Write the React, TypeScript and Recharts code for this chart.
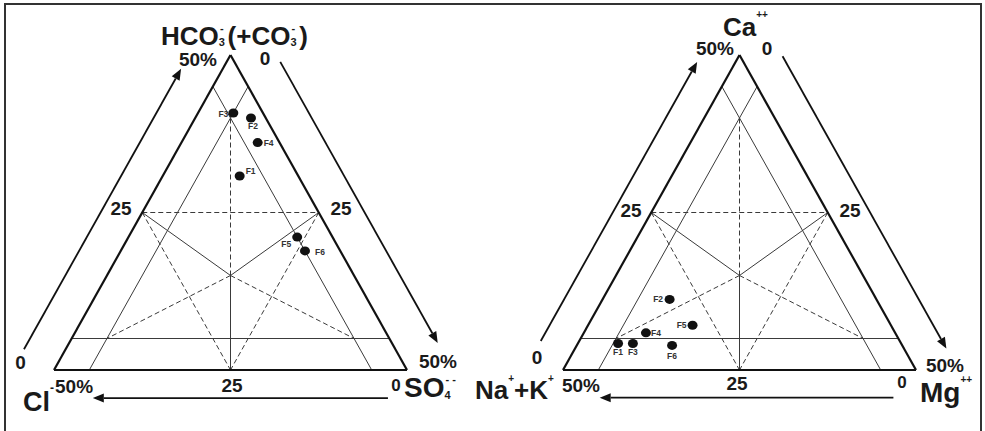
import React from "react";
import { ScatterChart, Scatter, XAxis, YAxis, ReferenceLine } from "recharts";

const samples = ["F1", "F2", "F3", "F4", "F5", "F6"];

// anion triangle, meq % (each row sums to 50)
const hco3 = [30.8, 40.0, 40.8, 36.1, 21.1, 18.9];
const so4 = [10.9, 7.9, 5.0, 10.8, 23.9, 26.1];
const cl = [8.3, 2.1, 4.2, 3.1, 5.0, 5.0];

// cation triangle, meq %
const ca = [4.2, 11.2, 4.2, 5.9, 7.1, 3.9];
const mg = [5.7, 9.5, 7.8, 8.8, 14.8, 13.5];
const naK = [40.1, 29.3, 38.0, 35.3, 28.1, 32.6];

const TOTAL = 50;
const INSET = 5;
const CENTER_TOP = 15;

type Tern = [number, number, number]; // top, left, right

const toXY = ([top, , right]: Tern) => ({ x: right + top / 2, y: top });

const FONT = "'Liberation Sans', Arial, sans-serif";
const PX_X = 7.06;
const PX_Y = 6.3;
const BASE_Y = 370;
const H = 431;

const anionLabels: Record<string, [number, number, "start" | "end" | "middle"]> = {
  F1: [6, -2, "start"],
  F2: [-3, 11, "start"],
  F3: [-5, 4.5, "end"],
  F4: [6, 3.5, "start"],
  F5: [-6, 10, "end"],
  F6: [10, 4, "start"],
};
const cationLabels: Record<string, [number, number, "start" | "end" | "middle"]> = {
  F1: [0, 11.5, "middle"],
  F2: [-6.5, 3, "end"],
  F3: [0, 11.5, "middle"],
  F4: [5, 3.5, "start"],
  F5: [-6, 2.5, "end"],
  F6: [0, 13.5, "middle"],
};

const C: Tern = [CENTER_TOP, (TOTAL - CENTER_TOP) / 2, (TOTAL - CENTER_TOP) / 2];
const midL: Tern = [25, 25, 0];
const midR: Tern = [25, 0, 25];
const midB: Tern = [0, 25, 25];
const inT: Tern = [TOTAL - 2 * INSET, INSET, INSET];
const inL: Tern = [INSET, TOTAL - 2 * INSET, INSET];
const inR: Tern = [INSET, INSET, TOTAL - 2 * INSET];

const solidGuides: [Tern, Tern][] = [
  [[INSET, TOTAL - INSET, 0], [INSET, 0, TOTAL - INSET]],
  [[TOTAL - INSET, INSET, 0], [0, INSET, TOTAL - INSET]],
  [[TOTAL - INSET, 0, INSET], [0, TOTAL - INSET, INSET]],
  [C, midL],
  [C, midR],
  [C, midB],
];
const dashedGuides: [Tern, Tern][] = [
  [midL, midR],
  [midL, midB],
  [midR, midB],
  [C, inT],
  [C, inL],
  [C, inR],
];
const edges: [Tern, Tern][] = [
  [[TOTAL, 0, 0], [0, TOTAL, 0]],
  [[0, TOTAL, 0], [0, 0, TOTAL]],
  [[0, 0, TOTAL], [TOTAL, 0, 0]],
];

const arrowShape = (p: any) => {
  const { x1, y1, x2, y2 } = p;
  const dx = x2 - x1;
  const dy = y2 - y1;
  const len = Math.hypot(dx, dy);
  const ux = dx / len;
  const uy = dy / len;
  const L = 11;
  const W = 4.5;
  const bx = x2 - ux * L;
  const by = y2 - uy * L;
  return (
    <g>
      <line x1={x1} y1={y1} x2={bx} y2={by} stroke="#111" strokeWidth={1.8} />
      <polygon
        points={`${x2},${y2} ${bx - uy * W},${by + ux * W} ${bx + uy * W},${by - ux * W}`}
        fill="#111"
      />
    </g>
  );
};

type Arrow = { left: [number, number, number]; right: [number, number, number]; base: [number, number, number] };

function Ternary({
  left,
  width,
  originX,
  top,
  lft,
  right,
  labels,
  arrows,
}: {
  left: number;
  width: number;
  originX: number;
  top: number[];
  lft: number[];
  right: number[];
  labels: Record<string, [number, number, "start" | "end" | "middle"]>;
  arrows: Arrow;
}) {
  const data = samples.map((name, i) => ({
    name,
    left: lft[i],
    ...toXY([top[i], lft[i], right[i]]),
  }));
  const xDomain = [-originX / PX_X, (width - originX) / PX_X];
  const yDomain = [(BASE_Y - H) / PX_Y, BASE_Y / PX_Y];
  const seg = ([a, b]: [Tern, Tern]) => [toXY(a), toXY(b)];
  // arrows parallel to the edges: [offset, from, to]
  const la = arrows.left;
  const ra = arrows.right;
  const ba = arrows.base;
  return (
    <div style={{ position: "absolute", left, top: 0 }}>
      <ScatterChart width={width} height={H} margin={{ top: 0, right: 0, bottom: 0, left: 0 }}>
        <XAxis type="number" dataKey="x" domain={xDomain} hide allowDataOverflow />
        <YAxis type="number" dataKey="y" domain={yDomain} hide allowDataOverflow />
        {solidGuides.map((s, i) => (
          <ReferenceLine key={"s" + i} segment={seg(s)} stroke="#3a3a3a" strokeWidth={1} ifOverflow="visible" />
        ))}
        {dashedGuides.map((s, i) => (
          <ReferenceLine
            key={"d" + i}
            segment={seg(s)}
            stroke="#3a3a3a"
            strokeWidth={1}
            strokeDasharray="5 3"
            ifOverflow="visible"
          />
        ))}
        {edges.map((s, i) => (
          <ReferenceLine key={"e" + i} segment={seg(s)} stroke="#111" strokeWidth={2.2} ifOverflow="visible" />
        ))}
        <ReferenceLine
          segment={[
            { x: la[1] / 2 + la[0], y: la[1] },
            { x: la[2] / 2 + la[0], y: la[2] },
          ]}
          ifOverflow="visible"
          shape={arrowShape}
        />
        <ReferenceLine
          segment={[
            { x: TOTAL - ra[1] / 2 + ra[0], y: ra[1] },
            { x: TOTAL - ra[2] / 2 + ra[0], y: ra[2] },
          ]}
          ifOverflow="visible"
          shape={arrowShape}
        />
        <ReferenceLine
          segment={[
            { x: ba[1], y: ba[0] },
            { x: ba[2], y: ba[0] },
          ]}
          ifOverflow="visible"
          shape={arrowShape}
        />
        <Scatter
          data={data}
          isAnimationActive={false}
          shape={(p: any) => {
            const [dx, dy, anchor] = labels[p.payload.name];
            return (
              <g>
                <ellipse cx={p.cx} cy={p.cy} rx={5} ry={4.5} fill="#111" />
                <text
                  x={p.cx + dx}
                  y={p.cy + dy}
                  textAnchor={anchor}
                  fontSize={8.5}
                  fontWeight="bold"
                  fontFamily={FONT}
                  fill="#333"
                >
                  {p.payload.name}
                </text>
              </g>
            );
          }}
        />
      </ScatterChart>
    </div>
  );
}

const Tick = ({ x, y, t, size = 19, anchor = "middle" }: any) => (
  <text x={x} y={y} fontSize={size} fontWeight="bold" fontFamily={FONT} textAnchor={anchor} fill="#1a1a1a">
    {t}
  </text>
);

export default function App() {
  return (
    <div style={{ position: "absolute", left: 0, top: 0, width: 985, height: H, background: "#fff", overflow: "hidden" }}>
      <Ternary
        left={0}
        width={490}
        originX={54}
        top={hco3}
        lft={cl}
        right={so4}
        labels={anionLabels}
        arrows={{ left: [-5.9, 3.3, 47.8], right: [6.5, 48.9, 4.3], base: [-4.45, 47.3, 5.5] }}
      />
      <Ternary
        left={490}
        width={495}
        originX={73}
        top={ca}
        lft={naK}
        right={mg}
        labels={cationLabels}
        arrows={{ left: [-5.45, 4.6, 48.9], right: [6.0, 49.8, 3.4], base: [-4.4, 46.8, 5.2] }}
      />
      <svg width={985} height={H} style={{ position: "absolute", left: 0, top: 0, pointerEvents: "none" }}>
        <rect x={5} y={4} width={976} height={460} fill="none" stroke="#333" strokeWidth={2} />
        <g fontFamily={FONT} fontWeight="bold" fill="#1a1a1a">
          <text x={161} y={45} fontSize={26}>
            HCO
            <tspan fontSize={11} dy={1}>3</tspan>
            <tspan fontSize={11} dx={-5} dy={-14}>-</tspan>
            <tspan dx={4} dy={13}>(+CO</tspan>
            <tspan fontSize={11} dy={1}>3</tspan>
            <tspan fontSize={11} dx={-5} dy={-14}>-</tspan>
            <tspan dx={4} dy={13}>)</tspan>
          </text>
          <text x={723} y={36} fontSize={26}>
            Ca<tspan fontSize={10} dy={-18}>++</tspan>
          </text>
          <text x={23} y={411} fontSize={27}>
            Cl<tspan fontSize={12} dy={-19}>-</tspan>
          </text>
          <text x={404} y={397} fontSize={28}>
            SO<tspan fontSize={11} dy={2}>4</tspan>
            <tspan fontSize={11} dx={-5} dy={-16}>- -</tspan>
          </text>
          <text x={475} y={399} fontSize={26}>
            Na<tspan fontSize={10} dy={-17}>+</tspan>
            <tspan dy={17}>+K</tspan>
            <tspan fontSize={10} dy={-17}>+</tspan>
          </text>
          <text x={920} y={402} fontSize={28}>
            Mg<tspan fontSize={10} dy={-19}>++</tspan>
          </text>
        </g>
        <Tick x={198} y={66} t="50%" />
        <Tick x={265} y={65} t="0" />
        <Tick x={121} y={215} t="25" />
        <Tick x={341} y={215} t="25" />
        <Tick x={20.5} y={369} t="0" />
        <Tick x={438} y={368} t="50%" />
        <Tick x={232} y={392} t="25" />
        <Tick x={55} y={393} t="50%" anchor="start" />
        <Tick x={396} y={391} t="0" size={17} />
        <Tick x={715} y={55} t="50%" />
        <Tick x={767} y={55} t="0" />
        <Tick x={631} y={217} t="25" />
        <Tick x={850} y={217} t="25" />
        <Tick x={537} y={364} t="0" />
        <Tick x={945} y={372} t="50%" />
        <Tick x={737} y={390} t="25" />
        <Tick x={581} y={392} t="50%" />
        <Tick x={902} y={388} t="0" size={17} />
      </svg>
    </div>
  );
}
